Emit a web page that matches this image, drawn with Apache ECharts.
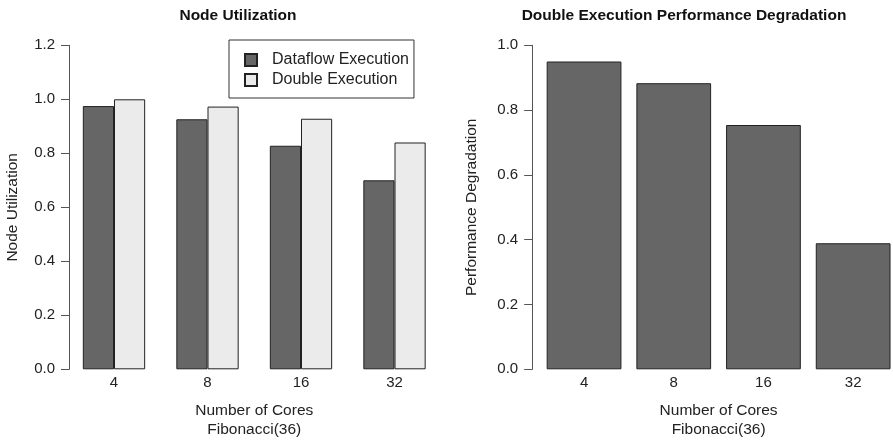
<!DOCTYPE html>
<html>
<head>
<meta charset="utf-8">
<script src="https://cdn.jsdelivr.net/npm/echarts@6/dist/echarts.min.js"></script>
<style>
  html, body { margin: 0; padding: 0; background: #fff; }
  #main { width: 893px; height: 442px; }
</style>
</head>
<body>
<div id="main"></div>
<script>
var cores = ['4', '8', '16', '32'];
var dataflowUtil = [0.975, 0.926, 0.828, 0.700];
var doubleUtil = [1.0, 0.973, 0.928, 0.840];
var degradation = [0.950, 0.883, 0.754, 0.389];

var font = 'Liberation Sans';
var axisColor = '#555';

var chart = echarts.init(document.getElementById('main'), null, { renderer: 'canvas' });

function yAxisOf(idx, max, name, offset, gap) {
  return {
    gridIndex: idx,
    type: 'value',
    min: 0,
    max: max,
    interval: 0.2,
    offset: offset,
    name: name,
    nameLocation: 'middle',
    nameGap: gap,
    nameTextStyle: { fontFamily: font, fontSize: 15.5, color: '#222' },
    axisLine: { show: true, lineStyle: { color: axisColor, width: 1 } },
    axisTick: { show: true, length: 8, lineStyle: { color: axisColor } },
    splitLine: { show: false },
    axisLabel: {
      margin: 14,
      fontFamily: font,
      fontSize: 15,
      color: '#222',
      formatter: function (v) { return v.toFixed(1); }
    }
  };
}

function xAxisOf(idx) {
  return {
    gridIndex: idx,
    type: 'category',
    data: cores,
    name: 'Number of Cores\nFibonacci(36)',
    nameLocation: 'middle',
    nameGap: 32,
    nameTextStyle: { fontFamily: font, fontSize: 15.5, color: '#222', lineHeight: 19 },
    axisLine: { show: false },
    axisTick: { show: false },
    axisLabel: { margin: 6, fontFamily: font, fontSize: 15, color: '#222' }
  };
}

var option = {
  backgroundColor: '#fff',
  animation: false,
  title: [{
    text: 'Node Utilization',
    left: 233,
    top: 3,
    textAlign: 'center',
    textStyle: { fontFamily: font, fontSize: 15.5, fontWeight: 'bold', color: '#111' }
  }, {
    text: 'Double Execution Performance Degradation',
    left: 679,
    top: 3,
    textAlign: 'center',
    textStyle: { fontFamily: font, fontSize: 15.5, fontWeight: 'bold', color: '#111' }
  }],
  legend: {
    orient: 'vertical',
    left: 229,
    top: 40,
    padding: [12, 5, 10, 15],
    itemGap: 4,
    itemWidth: 12,
    itemHeight: 12,
    icon: 'rect',
    borderColor: '#333',
    borderWidth: 1,
    textStyle: { fontFamily: font, fontSize: 16, color: '#222', lineHeight: 15, padding: [0, 0, 0, 10] },
    data: ['Dataflow Execution', 'Double Execution']
  },
  grid: [
    { left: 67.25, top: 45.3, width: 374, height: 324, outerBoundsMode: 'none' },
    { left: 539.2, top: 45.3, width: 358.8, height: 324, outerBoundsMode: 'none' }
  ],
  xAxis: [xAxisOf(0), xAxisOf(1)],
  yAxis: [
    yAxisOf(0, 1.2, 'Node Utilization', -1.75, 48),
    yAxisOf(1, 1.0, 'Performance Degradation', 7, 52)
  ],
  series: [{
    name: 'Dataflow Execution',
    type: 'bar',
    xAxisIndex: 0,
    yAxisIndex: 0,
    barGap: '0%',
    barCategoryGap: '33.33%',
    itemStyle: { color: '#666666', borderColor: '#222', borderWidth: 1 },
    data: dataflowUtil
  }, {
    name: 'Double Execution',
    type: 'bar',
    xAxisIndex: 0,
    yAxisIndex: 0,
    barGap: '0%',
    barCategoryGap: '33.33%',
    itemStyle: { color: '#ebebeb', borderColor: '#222', borderWidth: 1 },
    data: doubleUtil
  }, {
    name: 'Degradation',
    type: 'bar',
    xAxisIndex: 1,
    yAxisIndex: 1,
    barCategoryGap: '16.67%',
    itemStyle: { color: '#666666', borderColor: '#222', borderWidth: 1 },
    data: degradation
  }]
};

chart.setOption(option);
</script>
</body>
</html>
